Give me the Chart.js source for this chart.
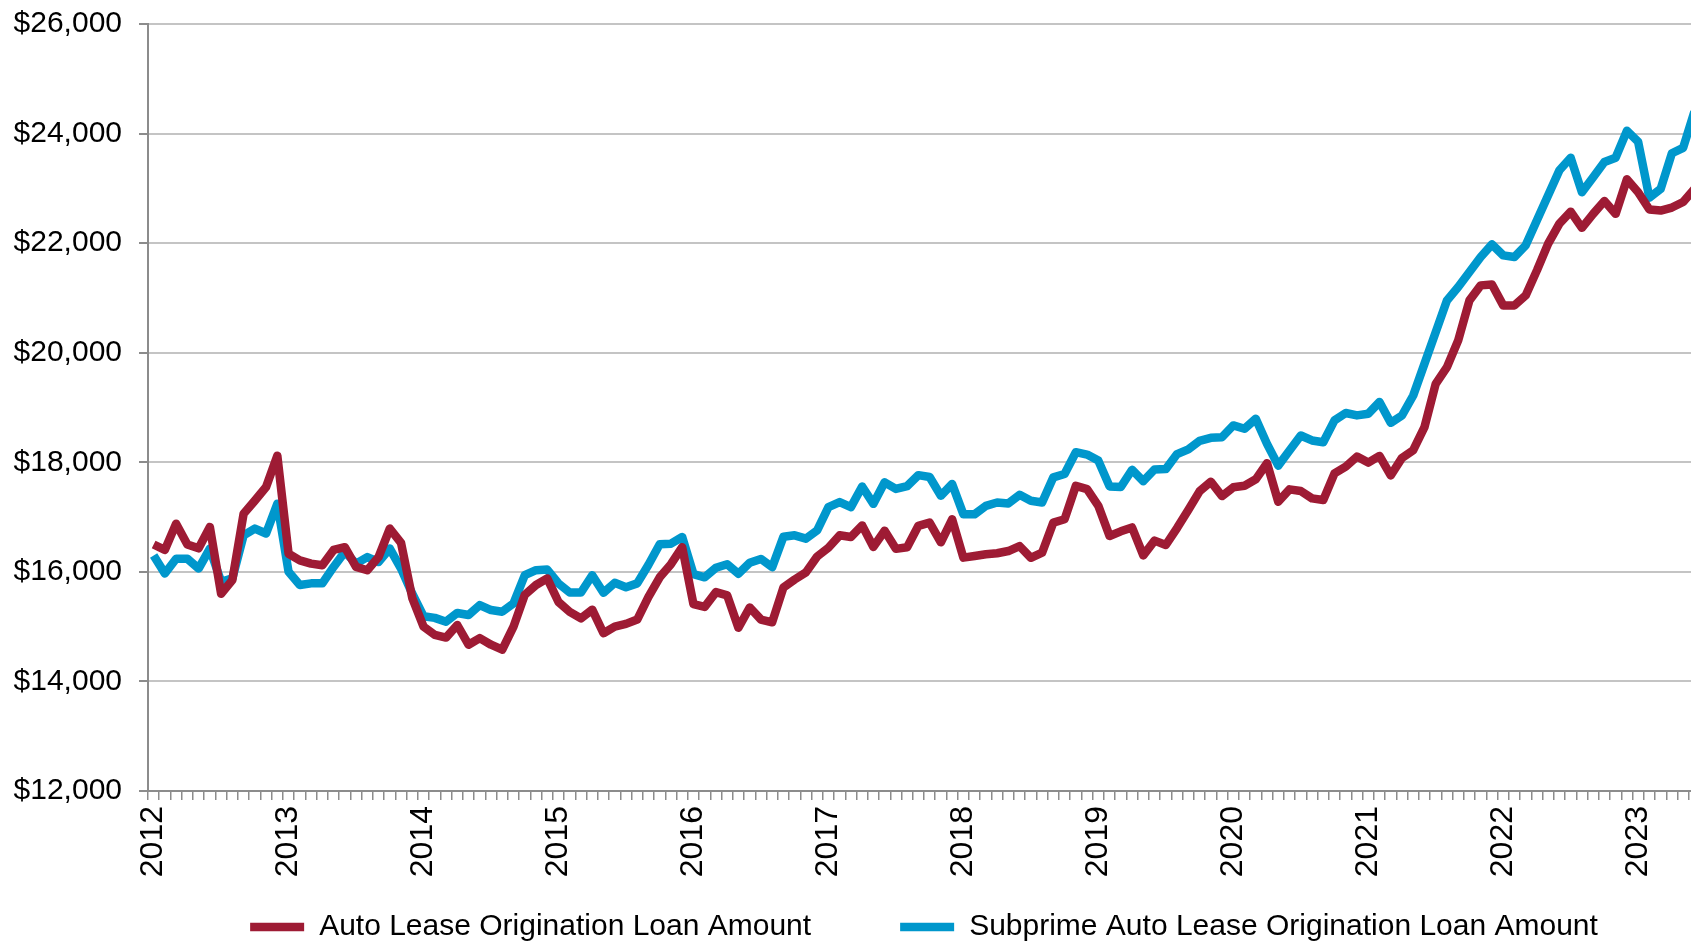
<!DOCTYPE html>
<html>
<head>
<meta charset="utf-8">
<script src="https://cdn.jsdelivr.net/npm/chart.js@4.4.0/dist/chart.umd.min.js"></script>
<style>
  html, body { margin: 0; padding: 0; background: #fff; overflow: hidden; }
  #wrap { width: 1702px; height: 942px; position: relative; }
</style>
</head>
<body>
<div id="wrap"><canvas id="grafico"></canvas></div>
<script>
// a침os y meses (enero 2012 - junio 2023)
const years = [2012, 2013, 2014, 2015, 2016, 2017, 2018, 2019, 2020, 2021, 2022, 2023];
const lastMonth2023 = 6;

const autoLease = [
  16500, 16400, 16880, 16500, 16430, 16820, 15600, 15850, 17060, 17300, 17550, 18120,
  16330, 16210, 16150, 16120, 16400, 16450, 16090, 16030, 16270, 16790, 16530, 15520,
  15000, 14850, 14800, 15030, 14670, 14790, 14670, 14580, 15000, 15580, 15760, 15880,
  15450, 15270, 15150, 15310, 14880, 15000, 15050, 15130, 15545, 15900, 16140, 16450,
  15410, 15360, 15630, 15570, 14980, 15350, 15130, 15080, 15715, 15860, 15990, 16280,
  16440, 16667, 16636, 16848, 16455, 16750, 16420, 16450, 16840, 16900, 16540, 16960,
  16260, 16290, 16320, 16340, 16380, 16470, 16257, 16350, 16900, 16960, 17570, 17510,
  17205, 16655, 16740, 16810, 16300, 16570, 16490, 16800, 17130, 17470, 17646, 17384,
  17543, 17573, 17689, 17982, 17280, 17506, 17475, 17341, 17311, 17799, 17921, 18104,
  17994, 18116, 17760, 18080, 18220, 18641, 19433, 19737, 20224, 20955, 21229, 21247,
  20864, 20864, 21046, 21503, 21990, 22356, 22575, 22280, 22535, 22770, 22535, 23165,
  22930, 22614, 22594, 22650, 22750, 22990
];

const subprimeLease = [
  16300, 15970, 16240, 16240, 16060, 16425, 15820, 15880, 16667, 16790, 16700, 17245,
  16000, 15760, 15790, 15790, 16090, 16365, 16150, 16270, 16180, 16425, 16060, 15600,
  15190, 15160, 15090, 15250, 15212, 15394, 15303, 15273, 15424, 15939, 16030, 16042,
  15788, 15624, 15624, 15939, 15618, 15800, 15720, 15790, 16130, 16503, 16515, 16636,
  15960, 15900, 16075, 16140, 15965, 16167, 16236, 16085, 16640, 16667, 16606, 16758,
  17182, 17273, 17182, 17558, 17242, 17635, 17513, 17565, 17765, 17732, 17390, 17603,
  17052, 17052, 17205, 17266, 17248, 17407, 17297, 17266, 17725, 17786, 18184, 18141,
  18031, 17560, 17548, 17863, 17655, 17870, 17876, 18150, 18235, 18390, 18447, 18459,
  18673, 18612, 18795, 18336, 17939, 18214, 18489, 18398, 18367, 18765, 18899, 18856,
  18887, 19101, 18720, 18854, 19219, 19798, 20376, 20955, 21199, 21473, 21747, 21978,
  21777, 21747, 21960, 22417, 22873, 23330, 23559, 22929, 23204, 23480, 23559, 24051,
  23850, 22830, 22990, 23640, 23740, 24400
];

const yTicks = { min: 12000, max: 26000, step: 2000 };

// etiquetas mensuales
const labels = [];
years.forEach(a => {
  const meses = a === 2023 ? lastMonth2023 : 12;
  for (let m = 1; m <= meses; m++) labels.push(`${a}-${String(m).padStart(2, "0")}`);
});

const fuente = "'Liberation Sans', Arial, sans-serif";
const ctx = document.getElementById("grafico").getContext("2d");

// posiciones del 치rea de trazado
const altoLienzo = 942;
const ejeIzq = 148;
const ejeArriba = 24;
const ejeAbajo = 791;
const margenAbajo = -10;
const sepLeyenda = 10;
const altoLeyenda = 30 + sepLeyenda + 10;

// leyenda con un hueco vac칤o entre las dos series
function etiquetasLeyenda(chart) {
  const items = Chart.defaults.plugins.legend.labels.generateLabels(chart);
  const hueco = {
    text: "",
    fillStyle: "rgba(0,0,0,0)",
    strokeStyle: "rgba(0,0,0,0)",
    lineWidth: 0,
    pointStyle: "line",
    hidden: false,
    datasetIndex: -1
  };
  return [items[0], hueco, items[1]];
}

new Chart(ctx, {
  type: "line",
  data: {
    labels: labels,
    datasets: [{
      label: "Auto Lease Origination Loan Amount",
      data: autoLease,
      borderColor: "#9e1b34",
      backgroundColor: "#9e1b34",
      borderWidth: 8.5,
      pointRadius: 0,
      tension: 0,
      borderJoinStyle: "round"
    }, {
      label: "Subprime Auto Lease Origination Loan Amount",
      data: subprimeLease,
      borderColor: "#0097cc",
      backgroundColor: "#0097cc",
      borderWidth: 8.5,
      pointRadius: 0,
      tension: 0,
      borderJoinStyle: "round"
    }]
  },
  options: {
    responsive: true,
    maintainAspectRatio: false,
    animation: false,
    layout: { padding: { left: 0, right: 2, top: ejeArriba, bottom: margenAbajo } },
    plugins: {
      tooltip: { enabled: false },
      legend: {
        position: "bottom",
        fullSize: false,
        onClick: () => {},
        labels: {
          usePointStyle: true,
          pointStyle: "line",
          pointStyleWidth: 54,
          color: "#000",
          padding: sepLeyenda,
          font: { family: fuente, size: 30 },
          generateLabels: etiquetasLeyenda
        }
      }
    },
    scales: {
      x: {
        offset: true,
        border: { display: true, color: "#8c8c8c", width: 2 },
        grid: { drawOnChartArea: false, tickLength: 9, tickColor: "#8c8c8c", lineWidth: 1.5, offset: true },
        ticks: {
          autoSkip: false,
          minRotation: 90,
          maxRotation: 90,
          padding: 6,
          color: "#000",
          font: { family: fuente, size: 32 },
          callback: function (v, i) {
            const l = labels[i];
            return l.endsWith("-01") ? l.slice(0, 4) : "";
          }
        },
        afterFit: s => {
          s.paddingLeft = 0;
          s.paddingRight = 0;
          s.height = altoLienzo - margenAbajo - altoLeyenda - ejeAbajo;
        }
      },
      y: {
        min: yTicks.min,
        max: yTicks.max,
        border: { display: true, color: "#8c8c8c", width: 2 },
        grid: { color: "#c4c4c4", lineWidth: 2, tickLength: 9, tickColor: "#8c8c8c" },
        ticks: {
          stepSize: yTicks.step,
          padding: 17,
          color: "#000",
          font: { family: fuente, size: 30 },
          callback: v => "$" + v.toLocaleString("en-US")
        },
        afterFit: s => {
          s.width = ejeIzq;
          s.paddingTop = 0;
          s.paddingBottom = 0;
        }
      }
    }
  }
});
</script>
</body>
</html>
